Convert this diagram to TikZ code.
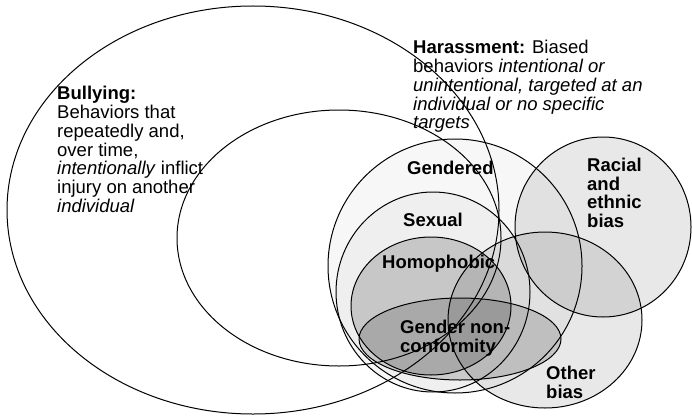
\documentclass[tikz,border=0pt]{standalone}
\usepackage{fontspec}
\setmainfont{Liberation Sans}
\usetikzlibrary{shapes, positioning}

\begin{document}
\begin{tikzpicture} [
    x=1pt, y=-1pt,
    region/.style={ellipse, draw=black, line width=1pt, fill=black, inner sep=0pt, outer sep=0pt},
    desctext/.style={anchor=north west, align=left, inner sep=0pt, font=\fontsize{18.5}{18.8}\selectfont},
    tagtext/.style={anchor=north west, align=left, inner sep=0pt, font=\fontsize{18.5}{18.5}\selectfont\bfseries}
]
\useasboundingbox (0,0) rectangle (692,417);

% LAYER 1: Draw the two outer sets first
\node[region, fill=none, minimum width=492pt, minimum height=408pt] (bullying) at (253,210) {};
\node[region, fill=none, minimum width=324pt, minimum height=256pt] (harassment) at (339,238) {};

% LAYER 2: Draw the bias sets on top
\node[region, fill opacity=0.09, minimum width=194pt, minimum height=176pt] (other) at (545,320) {};
\node[region, fill opacity=0.03, minimum width=254pt, minimum height=254pt] (gendered) at (455,266) {};
\node[region, fill opacity=0.03, minimum width=194pt, minimum height=200pt] (sexual) at (433,292) {};
\node[region, fill opacity=0.17, minimum width=160pt, minimum height=138pt] (homophobic) at (431,306) {};
\node[region, fill opacity=0.15, minimum width=202pt, minimum height=82pt] (nonconform) at (460,339) {};
\node[region, fill opacity=0.09, minimum width=176pt, minimum height=180pt] (racial) at (603,227) {};

% LAYER 3: Add the texts on top of everything
\node[desctext] (bullying_text) at (57,86) {
    \textbf{Bullying:}\\
    Behaviors that\\
    repeatedly and,\\
    over time,\\
    \textit{intentionally} inflict\\
    injury on another\\
    \textit{individual}
};

\node[desctext] (harassment_text) at (413,40) {
    \textbf{Harassment:} Biased\\
    behaviors \textit{intentional or}\\
    \textit{unintentional, targeted at an}\\
    \textit{individual or no specific}\\
    \textit{targets}
};

\node[tagtext] (gendered_text) at (407,161) {Gendered};
\node[tagtext] (sexual_text) at (403,213) {Sexual};
\node[tagtext] (homophobic_text) at (382,255) {Homophobic};
\node[tagtext] (nonconform_text) at (400,320) {Gender non-\\conformity};
\node[tagtext] (racial_text) at (587,158) {Racial\\and\\ethnic\\bias};
\node[tagtext] (other_text) at (546,366) {Other\\bias};

\end{tikzpicture}
\end{document}
